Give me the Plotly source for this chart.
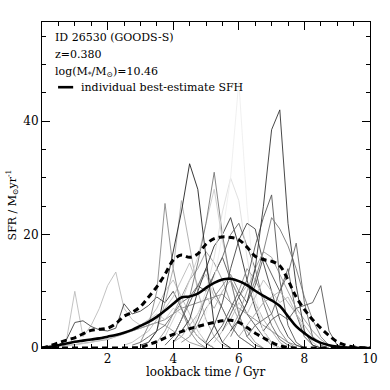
import plotly.graph_objects as go

# time grid step of the sampled SFHs (Gyr)
step = 0.25

# individual SFH samples: (start time, gray colour, values every 0.25 Gyr)
sfh_samples = [
    (0.25, "#bbbbbb", [0.2, 0.5, 1.5, 10, 2, 4, 7, 11, 13.4, 7, 5, 4, 5, 7, 10, 12, 9, 6, 3, 1, 0]),
    (0.25, "#444444", [0.2, 0.5, 1.5, 4.5, 4.8, 3.8, 3.2, 3.0, 3.5, 7.8, 6, 6.5, 7.5, 9, 8, 10, 7, 4, 2, 0.8, 0]),
    (0.0, "#888888", [0, 0.3, 0.5, 0.8, 1, 1.2, 1.5, 1.8, 2, 2.3, 2.6, 3, 3.5, 4, 4.5, 5, 6, 7, 7.5, 8, 8.5, 9, 9.5, 8, 7, 6, 5, 4, 3, 2, 1, 0.5, 0]),
    (0.0, "#999999", [0, 0.2, 0.3, 0.5, 0.6, 0.8, 1, 1.2, 1.5, 2, 2.5, 3, 3.5, 4, 4.5, 4, 3, 2, 1, 0.5, 0]),
    (0.5, "#cccccc", [0.1, 0.3, 0.5, 0.7, 1, 1.3, 1.6, 2, 2.5, 3, 4, 5, 6, 5, 7, 6, 4, 2, 1, 0]),
    (2.5, "#bbbbbb", [0.5, 1, 2, 3, 5, 7, 9, 12, 15, 11, 13, 9, 7, 4, 2, 1, 0]),
    (2.75, "#666666", [0.5, 1, 2, 3, 4, 6, 8, 9, 11, 14, 10, 7, 4, 2, 1, 0]),
    (3.0, "#888888", [1, 4, 10, 25.5, 14, 7, 3, 1, 0]),
    (3.25, "#aaaaaa", [1, 3, 8, 14, 26, 18, 10, 5, 2, 0.5, 0]),
    (3.5, "#999999", [1, 3, 6, 9, 12, 14, 17, 15, 12, 8, 5, 3, 1, 0]),
    (3.75, "#cccccc", [2, 5, 8, 12, 16, 22, 28, 19, 12, 6, 2, 0.5, 0]),
    (3.75, "#555555", [0.5, 2, 5, 8, 11, 10, 13, 16, 12, 9, 6, 4, 2, 0.5, 0]),
    (4.0, "#333333", [1, 3, 5, 10, 14, 18, 20, 23, 18, 12, 7, 3, 1, 0]),
    (4.0, "#777777", [2, 5, 9, 15, 22, 31, 20, 12, 6, 2, 0.5, 0]),
    (4.0, "#aaaaaa", [1, 2, 4, 6, 9, 7, 10, 12, 9, 11, 8, 5, 3, 1, 0]),
    (4.25, "#888888", [1, 2, 4, 7, 9, 11, 13, 10, 14, 12, 9, 6, 3, 1, 0]),
    (4.5, "#666666", [2, 5, 9, 13, 16, 20, 22, 18, 14, 8, 4, 1.5, 0.5, 0]),
    (4.5, "#dddddd", [2, 6, 10, 16, 24, 30, 26, 16, 8, 3, 1, 0]),
    (4.75, "#eeeeee", [2, 6, 12, 20, 30, 47, 25, 10, 3, 0.5, 0]),
    (5.0, "#444444", [1, 4, 8, 14, 19, 22, 21, 15, 10, 5, 2, 0.5, 0]),
    (5.0, "#555555", [0.5, 2, 4, 7, 10, 8, 11, 16, 13, 10, 14, 6, 2, 0.5, 0]),
    (5.25, "#bbbbbb", [1, 3, 5, 8, 6, 9, 12, 10, 8, 9, 6, 3, 1, 0]),
    (5.5, "#999999", [1, 3, 6, 10, 14, 17, 16, 13, 10, 7, 5, 3, 1.5, 0.5, 0]),
    (5.5, "#555555", [3, 6, 9, 12, 18, 23, 27, 12, 4, 1, 0]),
    (5.75, "#777777", [2, 5, 8, 12, 17, 23, 21, 18, 14, 9, 5, 2, 0.5, 0]),
    (5.75, "#333333", [3, 5, 8, 14, 25, 38.5, 42, 22, 11, 3, 0.5, 0]),
    (6.0, "#aaaaaa", [2, 4, 6, 8, 9, 10, 8, 6, 4, 2, 1, 0.5, 0]),
    (6.25, "#666666", [2, 4, 5, 6, 10, 13, 18.5, 8, 2, 0.5, 0]),
    (6.75, "#555555", [3, 5, 6, 5, 7, 7.5, 8, 11, 3, 0.5, 0]),
    (3.0, "#222222", [0.5, 1, 3, 10, 17, 24, 32.5, 28, 16, 4, 1, 0]),
]

time_grid = [0, 0.25, 0.5, 0.75, 1.0, 1.25, 1.5, 1.75, 2.0, 2.25, 2.5, 2.75, 3.0, 3.25,
             3.5, 3.75, 4.0, 4.25, 4.5, 4.75, 5.0, 5.25, 5.5, 5.75, 6.0, 6.25, 6.5, 6.75,
             7.0, 7.25, 7.5, 7.75, 8.0, 8.25, 8.5, 8.75, 9.0, 9.25, 9.5, 9.75, 10.0]
median_sfh = [0, 0.2, 0.5, 0.8, 1.1, 1.3, 1.5, 1.7, 2.0, 2.3, 2.7, 3.2, 3.9, 4.6,
              5.5, 6.6, 7.8, 8.9, 9.1, 9.6, 10.6, 11.5, 12.1, 12.2, 11.8, 11.1, 10.1, 9.2,
              8.4, 7.4, 5.6, 3.8, 2.6, 1.6, 0.9, 0.5, 0.25, 0.1, 0.05, 0, 0]
upper_sfh = [0, 0.4, 0.9, 1.4, 1.8, 2.5, 3.1, 3.3, 3.5, 4.3, 5.6, 6.3, 7.3, 9.0,
             10.8, 13.0, 15.5, 16.4, 16.0, 16.6, 18.3, 19.3, 19.6, 19.5, 19.1, 17.8, 16.2, 15.6,
             15.3, 14.5, 12.0, 9.0, 6.8, 5.0, 3.5, 2.2, 1.1, 0.5, 0.2, 0.05, 0]
lower_sfh = [0, 0, 0, 0, 0, 0, 0, 0, 0, 0, 0, 0.05, 0.1, 0.6,
             1.1, 1.8, 2.4, 2.9, 3.4, 3.8, 4.2, 4.5, 4.8, 4.9, 4.5, 3.6, 2.6, 1.8,
             1.0, 0.4, 0.1, 0, 0, 0, 0, 0, 0, 0, 0, 0, 0]

fig = go.Figure()

for t0, col, vals in sfh_samples:
    xs = [t0 + step*i for i in range(len(vals))]
    fig.add_trace(go.Scatter(x=xs, y=vals, mode="lines",
                             line=dict(color=col, width=0.9), hoverinfo="skip"))

fig.add_trace(go.Scatter(x=time_grid, y=median_sfh, mode="lines",
                         line=dict(color="black", width=2.6, shape="spline")))
for arr in (upper_sfh, lower_sfh):
    fig.add_trace(go.Scatter(x=time_grid, y=arr, mode="lines",
                             line=dict(color="black", width=3, dash="6px,4px", shape="spline")))

font_name = "DejaVu Serif"
txt = dict(xref="paper", yref="paper", xanchor="left", yanchor="middle",
           showarrow=False, font=dict(family=font_name, size=11, color="black"))
fig.add_annotation(x=0.035, y=0.951, text="ID 26530 (GOODS-S)", **txt)
fig.add_annotation(x=0.035, y=0.899, text="z=0.380", **txt)
fig.add_annotation(x=0.035, y=0.847, text="log(M<sub>*</sub>/M<sub>⊙</sub>)=10.46", **txt)
fig.add_annotation(x=0.113, y=0.800, text="individual best-estimate SFH", **txt)
fig.add_shape(type="line", xref="paper", yref="paper", x0=0.049, x1=0.095, y0=0.800, y1=0.800,
              line=dict(color="black", width=2.6))

# axis titles as annotations so the margins stay fixed
fig.add_annotation(x=0.497, y=-0.073, text="lookback time / Gyr", xref="paper", yref="paper",
                   xanchor="center", yanchor="middle", showarrow=False,
                   font=dict(family=font_name, size=12, color="black"))
fig.add_annotation(x=-0.092, y=0.44, text="SFR / M<sub>⊙</sub>yr<sup>-1</sup>", textangle=-90,
                   xref="paper", yref="paper", xanchor="center", yanchor="middle", showarrow=False,
                   font=dict(family=font_name, size=11, color="black"))

axis_common = dict(showgrid=False, zeroline=False, showline=True, linecolor="black",
                   linewidth=1, mirror="ticks", ticks="inside", tickcolor="black",
                   ticklen=8, tickwidth=1, automargin=False,
                   tickfont=dict(family=font_name, size=12, color="black"))
fig.update_xaxes(range=[0, 10], tickvals=[2, 4, 6, 8, 10],
                 minor=dict(dtick=0.5, tick0=0, ticks="inside", ticklen=4, tickcolor="black"),
                 **axis_common)
fig.update_yaxes(range=[0, 57.5], tickvals=[0, 20, 40],
                 minor=dict(dtick=5, tick0=0, ticks="inside", ticklen=4, tickcolor="black"),
                 **axis_common)

fig.update_layout(width=390, height=390, showlegend=False,
                  margin=dict(l=42, r=20, t=22, b=42),
                  paper_bgcolor="white", plot_bgcolor="white")

# drop the default page margin so the figure sits at the window corner
fig.write_html("out.html", config={"displayModeBar": False},
               post_script="document.body.style.margin='0';")
